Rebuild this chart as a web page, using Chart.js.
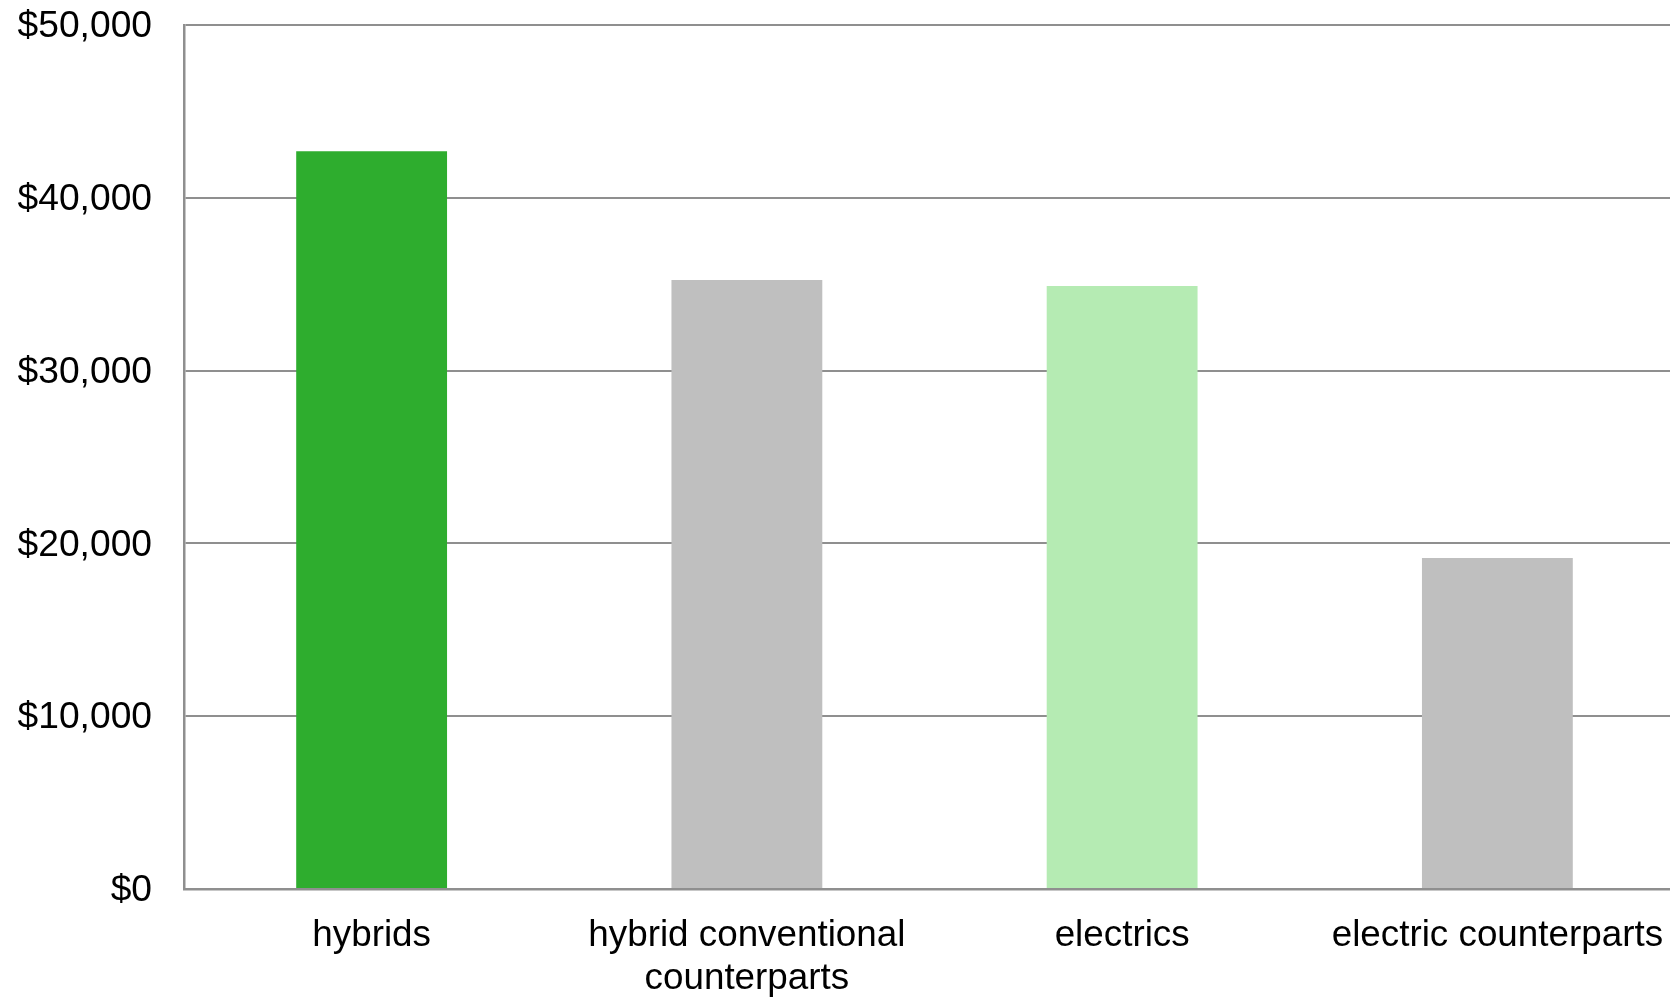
<!DOCTYPE html>
<html>
<head>
<meta charset="utf-8">
<title>Average price: hybrids and electrics vs. conventional counterparts</title>
<script src="https://cdn.jsdelivr.net/npm/chart.js@4/dist/chart.umd.min.js"></script>
<style>
  html, body { margin: 0; padding: 0; background: #ffffff; overflow: hidden; }
  #wrap { width: 1700px; height: 997px; }
</style>
</head>
<body>
<div id="wrap"><canvas id="chart" width="1700" height="997"></canvas></div>
<script>
// Categories (multi-line labels as arrays)
const categories = [
  'hybrids',
  ['hybrid conventional', 'counterparts'],
  'electrics',
  'electric counterparts'
];

// Average price per group, in dollars
const prices = [42700, 35250, 34900, 19150];

// Bar fill per category
const barColors = ['#2EAD2E', '#BFBFBF', '#B5EBB3', '#BFBFBF'];

// Value axis
const yMin = 0;
const yMax = 50000;
const yStep = 10000;

const gridColor = '#8f8f8f';
const fontFamily = '"Liberation Sans", Arial, Helvetica, sans-serif';

new Chart(document.getElementById('chart'), {
  type: 'bar',
  data: {
    labels: categories,
    datasets: [{
      data: prices,
      backgroundColor: barColors,
      borderWidth: 0,
      barPercentage: 0.402,
      categoryPercentage: 1.0
    }]
  },
  options: {
    responsive: false,
    devicePixelRatio: 1,
    animation: false,
    layout: { padding: { top: 25, right: 15, bottom: 0, left: 0 } },
    plugins: {
      legend: { display: false },
      tooltip: { enabled: false },
      title: { display: false }
    },
    scales: {
      x: {
        grid: { display: false, drawTicks: false },
        border: { display: true, color: gridColor, width: 2.5 },
        ticks: {
          color: '#000000',
          padding: 26,
          maxRotation: 0,
          autoSkip: false,
          font: { family: fontFamily, size: 36.8, lineHeight: 1.16 }
        },
        afterFit: (axis) => { axis.height = 108; }
      },
      y: {
        min: yMin,
        max: yMax,
        grid: { color: gridColor, lineWidth: 2, drawTicks: false },
        border: { display: true, color: gridColor, width: 2.5 },
        ticks: {
          stepSize: yStep,
          color: '#000000',
          padding: 32,
          labelOffset: 2,
          font: { family: fontFamily, size: 37.2 },
          callback: (v) => '$' + Number(v).toLocaleString('en-US')
        },
        afterFit: (axis) => {
          axis.width = 184;
          // top label may overhang the plot area; keep the plot edge fixed
          axis.paddingTop = 0;
          axis.paddingBottom = 0;
        }
      }
    }
  }
});
</script>
</body>
</html>
